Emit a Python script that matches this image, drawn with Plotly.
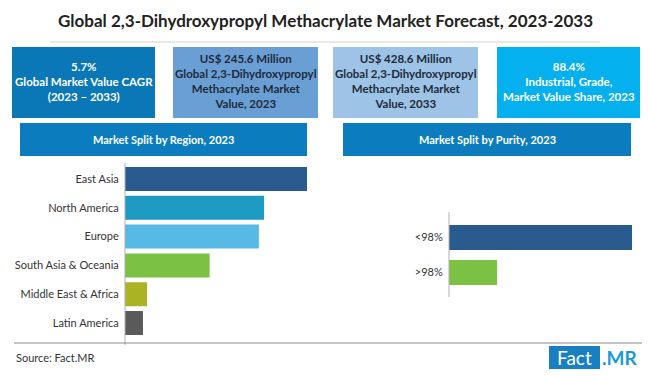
import plotly.graph_objects as go

# ---- data ----
regions = ["East Asia", "North America", "Europe", "South Asia & Oceania",
           "Middle East & Africa", "Latin America"]
region_share = [31.4, 24.0, 23.1, 14.6, 3.8, 3.1]
region_colors = ["#2a5b8e", "#1f9ac3", "#56b9e6", "#7bc143", "#aab323", "#5a5a5a"]

purity = ["<98%", ">98%"]
purity_share = [79.2, 20.8]
purity_colors = ["#2a5b8e", "#7bc143"]

title = "Global 2,3-Dihydroxypropyl Methacrylate Market Forecast, 2023-2033"
kpi_texts = [
    "<b>5.7%<br>Global Market Value CAGR<br>(2023 – 2033)</b>",
    "<b>US$ 245.6 Million<br>Global 2,3-Dihydroxypropyl<br>Methacrylate Market<br>Value, 2023</b>",
    "<b>US$ 428.6 Million<br>Global 2,3-Dihydroxypropyl<br>Methacrylate Market<br>Value, 2033</b>",
    "<b>88.4%<br>Industrial, Grade,<br>Market Value Share, 2023</b>",
]
kpi_fill = ["#0a78b6", "#6a9fd5", "#9dc3e6", "#05b0ef"]
kpi_font = ["white", "#1e2a3a", "#1e2a3a", "white"]
headers = ["Market Split by Region, 2023", "Market Split by Purity, 2023"]

# The page body has an 8px margin; size the figure so it fits the 650x377 window
OFF = 8
W, H = 650 - 2 * OFF, 377 - 2 * OFF
FONT = "Lato"


def px(x):
    return (x - OFF) / W


def py(y):
    return 1 - (y - OFF) / H


fig = go.Figure()

fig.add_trace(go.Bar(
    y=regions, x=region_share, orientation="h",
    marker=dict(color=region_colors, line=dict(width=0)),
    xaxis="x", yaxis="y", showlegend=False, hoverinfo="y+x",
))
fig.add_trace(go.Bar(
    y=purity, x=purity_share, orientation="h", width=0.72,
    marker=dict(color=purity_colors, line=dict(width=0)),
    xaxis="x2", yaxis="y2", showlegend=False, hoverinfo="y+x",
))

shapes = []
annotations = []

# title + underline
annotations.append(dict(x=px(325), y=py(20), xref="paper", yref="paper",
                        text="<b>" + title + "</b>", showarrow=False,
                        font=dict(family=FONT, size=17, color="#222222"),
                        xanchor="center", yanchor="middle"))
shapes.append(dict(type="line", xref="paper", yref="paper",
                   x0=px(50), x1=px(600), y0=py(42), y1=py(42),
                   line=dict(color="#d2d2d2", width=1)))

# KPI boxes
boxes_x = [(12, 155), (173, 318), (333, 478), (497, 640)]
for (x0, x1), txt, fc, tc in zip(boxes_x, kpi_texts, kpi_fill, kpi_font):
    shapes.append(dict(type="rect", xref="paper", yref="paper",
                       x0=px(x0), x1=px(x1), y0=py(118), y1=py(47),
                       fillcolor=fc, line=dict(width=0), layer="below"))
    annotations.append(dict(x=px((x0 + x1) / 2), y=py(81), xref="paper", yref="paper",
                            text=txt, showarrow=False, align="center",
                            font=dict(family=FONT, size=11.5, color=tc),
                            xanchor="center", yanchor="middle"))

# section headers
for (x0, x1), txt in zip([(20, 307), (343, 631)], headers):
    shapes.append(dict(type="rect", xref="paper", yref="paper",
                       x0=px(x0), x1=px(x1), y0=py(156), y1=py(123),
                       fillcolor="#0b7dbf", line=dict(width=0), layer="below"))
    annotations.append(dict(x=px((x0 + x1) / 2), y=py(139.5), xref="paper", yref="paper",
                            text="<b>" + txt + "</b>", showarrow=False,
                            font=dict(family=FONT, size=11, color="white"),
                            xanchor="center", yanchor="middle"))

# axis lines
shapes.append(dict(type="line", xref="paper", yref="paper",
                   x0=px(125), x1=px(125), y0=py(163), y1=py(345),
                   line=dict(color="#b0b0b0", width=1)))
shapes.append(dict(type="line", xref="paper", yref="paper",
                   x0=px(449), x1=px(449), y0=py(212), y1=py(297),
                   line=dict(color="#b0b0b0", width=1)))

# bottom line, source, logo
shapes.append(dict(type="line", xref="paper", yref="paper",
                   x0=px(14), x1=px(642), y0=py(343), y1=py(343),
                   line=dict(color="#8a8a8a", width=1)))
annotations.append(dict(x=px(14), y=py(357), xref="paper", yref="paper",
                        text="Source: Fact.MR", showarrow=False,
                        font=dict(family=FONT, size=11, color="#333333"),
                        xanchor="left", yanchor="middle"))
shapes.append(dict(type="rect", xref="paper", yref="paper",
                   x0=px(549), x1=px(600), y0=py(369), y1=py(346),
                   fillcolor="#1a7fc1", line=dict(width=0), layer="below"))
annotations.append(dict(x=px(574.5), y=py(357.5), xref="paper", yref="paper",
                        text="Fact", showarrow=False,
                        font=dict(family=FONT, size=19, color="white"),
                        xanchor="center", yanchor="middle"))
annotations.append(dict(x=px(600), y=py(357.5), xref="paper", yref="paper",
                        text="<b>.MR</b>", showarrow=False,
                        font=dict(family=FONT, size=19, color="#1b9ad8"),
                        xanchor="left", yanchor="middle"))

fig.update_layout(
    width=W, height=H,
    margin=dict(l=0, r=0, t=0, b=0),
    paper_bgcolor="white", plot_bgcolor="white",
    bargap=0.17,
    shapes=shapes, annotations=annotations,
    font=dict(family=FONT, size=11, color="#333333"),
    xaxis=dict(domain=[px(125), px(307)], range=[0, max(region_share)],
               visible=False, fixedrange=True),
    yaxis=dict(domain=[py(337.5), py(164.5)], autorange="reversed",
               showline=False, showgrid=False, zeroline=False,
               ticks="outside", ticklen=3, tickcolor="rgba(0,0,0,0)",
               tickfont=dict(family=FONT, size=11, color="#333333"),
               anchor="x"),
    xaxis2=dict(domain=[px(449), px(632)], range=[0, max(purity_share)],
                visible=False, fixedrange=True, anchor="y2"),
    yaxis2=dict(domain=[py(290), py(220)], autorange="reversed",
                showline=False, showgrid=False, zeroline=False,
                ticks="outside", ticklen=3, tickcolor="rgba(0,0,0,0)",
                tickfont=dict(family=FONT, size=11, color="#333333"),
                anchor="x2"),
)

fig.write_html("out.html")
